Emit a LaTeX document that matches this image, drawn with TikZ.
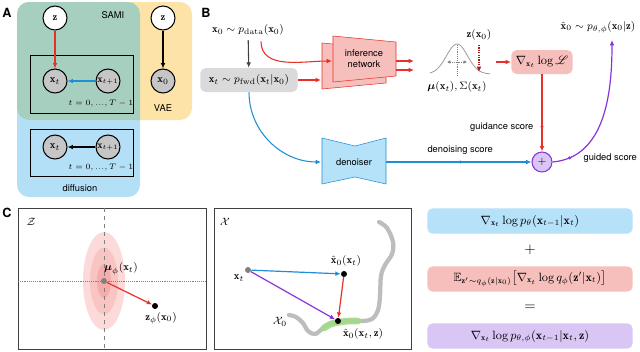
\documentclass[tikz,border=0pt]{standalone}
\usepackage{amsmath,amssymb}
\usepackage{mathrsfs}
\usepackage{fontspec}
\setsansfont{TeX Gyre Heros}
\usetikzlibrary{arrows.meta, positioning}
\definecolor{diffblue}{HTML}{B3E0F7}
\definecolor{vaeorange}{HTML}{FDE3A7}
\definecolor{samigreen}{HTML}{A7CFC0}
\definecolor{arrred}{HTML}{E8302A}
\definecolor{darkred}{HTML}{B01818}
\definecolor{arrblue}{HTML}{1E8FD5}
\definecolor{arrpurple}{HTML}{8A35D8}
\definecolor{boxred}{HTML}{F6BFBC}
\definecolor{boxblue}{HTML}{B5E1F9}
\definecolor{boxpurple}{HTML}{D9C6F5}
\definecolor{boxgray}{HTML}{DADADA}
\definecolor{curvegray}{HTML}{BDBDBD}
\definecolor{hlgreen}{HTML}{A3D98A}

\begin{document}
\begin{tikzpicture}[
  x=0.75pt, y=-0.75pt,
  font=\fontsize{8}{9.6}\selectfont,
  >={Latex[length=4pt,width=3.5pt]},
  panel/.style={font=\sffamily\bfseries\fontsize{9.5}{11}\selectfont},
  lbl/.style={font=\sffamily\fontsize{7}{8.4}\selectfont, text=black},
  latent/.style={circle, draw, thick, fill=white, minimum size=18pt, inner sep=0pt},
  obs/.style={latent, fill=gray!45},
  plate/.style={draw, semithick},
  platelbl/.style={font=\fontsize{6.3}{7}\selectfont},
  flow/.style={->, line width=0.9pt},
  dot/.style={circle, fill, inner sep=0pt, minimum size=4.5pt},
  smalldot/.style={circle, fill, inner sep=0pt, minimum size=2.5pt},
  eqbox/.style={rounded corners=4pt, minimum width=154pt, minimum height=19pt,
                inner sep=1pt, font=\fontsize{9}{10}\selectfont}
]
\useasboundingbox (0,0) rectangle (640,351);

% A: graphical models
\node[panel] (labA) at (7,13) {A};
\fill[diffblue, rounded corners=9pt] (17,2) rectangle (140,197);
\fill[vaeorange, rounded corners=9pt] (17,2) rectangle (192,120);
\begin{scope}
  \clip[rounded corners=9pt] (17,2) rectangle (140,197);
  \fill[samigreen, rounded corners=9pt] (17,2) rectangle (192,120);
\end{scope}
\node[lbl] (sami) at (113,15) {SAMI};
\node[lbl] (vae) at (163,108) {VAE};
\node[lbl] (diff) at (80,188) {diffusion};

\draw[plate] (30,55) rectangle (133,113);
\node[latent] (zS) at (55,18) {$\mathbf{z}$};
\node[obs] (xtS) at (55,81) {$\mathbf{x}_t$};
\node[obs, font=\fontsize{7.5}{8}\selectfont] (xtnS) at (108,81) {$\mathbf{x}_{t+1}$};
\node[platelbl] (tS) at (101,104) {$t=0,...,T-1$};
\draw[flow, arrred] (zS) -- (xtS);
\draw[flow, arrblue] (xtnS) -- (xtS);

\node[latent] (zV) at (163,18) {$\mathbf{z}$};
\node[obs] (x0V) at (163,81) {$\mathbf{x}_0$};
\draw[flow] (zV) -- (x0V);

\draw[plate] (30,129) rectangle (133,176);
\node[obs] (xtD) at (55,147) {$\mathbf{x}_t$};
\node[obs, font=\fontsize{7.5}{8}\selectfont] (xtnD) at (108,147) {$\mathbf{x}_{t+1}$};
\node[platelbl] (tD) at (101,168) {$t=0,...,T-1$};
\draw[flow] (xtnD) -- (xtD);

% B: training / sampling
\node[panel] (labB) at (206,13) {B};
\node (x0data) at (248,30) {$\mathbf{x}_0\sim p_{\mathrm{data}}(\mathbf{x}_0)$};
\node[fill=boxgray, rounded corners=4pt, minimum width=73pt, minimum height=18pt,
      inner sep=1pt] (xtfwd) at (249,80) {$\mathbf{x}_t\sim p_{\mathrm{fwd}}(\mathbf{x}_t|\mathbf{x}_0)$};
\draw[->, thick, darkgray] (x0data) -- (xtfwd);

\draw[arrred, fill=boxred] (322,43) -- (386,49) -- (386,83) -- (322,89) -- cycle;
\draw[arrred, fill=boxred] (333,36) -- (396,42) -- (396,76) -- (333,82) -- cycle;
\node[lbl, align=center] (infnet) at (364,59) {inference\\network};
\coordinate (infin1) at (332,61);
\coordinate (infin2) at (321,80);
\coordinate (infout1) at (396,61);
\coordinate (infend1) at (414,61);
\coordinate (infout2) at (396,70);
\coordinate (infend2) at (414,70);
\draw[->, thick, arrred] ([xshift=9.75pt, yshift=-1pt]x0data.south) to[out=-90, in=180] (infin1);
\draw[->, thick, arrred] (xtfwd.east) -- (infin2);
\draw[->, thick, arrred] (infout1) -- (infend1);
\draw[->, thick, arrred] (infout2) -- (infend2);

\draw[gray!80, semithick, domain=430:490, samples=50] plot (\x, {74-30*exp(-((\x-457)/10.5)^2/2)});
\draw[densely dotted, gray] (457,45) -- (457,75);
\draw[<->, densely dotted, gray, >={Latex[length=2.5pt,width=2.5pt]}] (447,62) -- (467,62);
\node (zx0) at (479,35) {$\mathbf{z}(\mathbf{x}_0)$};
\coordinate (zhit) at (479,72);
\draw[->, densely dotted, thick, darkred] (zx0) -- (zhit);
\node (musig) at (457,87) {$\boldsymbol{\mu}(\mathbf{x}_t),\Sigma(\mathbf{x}_t)$};

\node[fill=boxred, rounded corners=4pt, minimum width=46pt, minimum height=18pt,
      inner sep=1pt, font=\fontsize{9}{10}\selectfont] (gradL) at (542,62) {$\nabla_{\mathbf{x}_t}\log\mathscr{L}$};
\coordinate (gaussout) at (496,62);
\draw[->, thick, arrred] (gaussout) -- (gradL);

\node[circle, draw=arrpurple, thick, fill=boxpurple, minimum size=15pt, inner sep=0pt] (plus) at (542,162) {$+$};
\draw[flow, arrred] (gradL) -- node[pos=0.68, smalldot, label={[lbl, label distance=1pt]left:guidance score}] {} (plus);

\draw[arrblue, fill=boxblue] (322,138) -- (355,146) -- (386,138) -- (386,184) -- (355,177) -- (322,184) -- cycle;
\node[lbl] (denoiser) at (354,162) {denoiser};
\coordinate (denin) at (321,162);
\coordinate (denout) at (386,162);
\draw[->, thick, arrblue] (xtfwd.south) to[out=-90, in=180] (denin);
\draw[->, thick, arrblue] (denout) -- node[pos=0.51, smalldot, label={[lbl, label distance=0pt]above:denoising score}] {} (plus);

\node (x0hat) at (598,27) {$\hat{\mathbf{x}}_0\sim p_{\theta,\phi}(\mathbf{x}_0|\mathbf{z})$};
\coordinate (guidend) at (612,40);
\draw[flow, arrpurple] (plus.east) to[out=5, in=-90] node[pos=0.12, smalldot, label={[lbl, label distance=5pt]right:guided score}] {} (guidend);

% C: geometry
\node[panel] (labC) at (7,213) {C};
\draw[darkgray, semithick] (18,208) rectangle (206,349);
\node (Zsp) at (31,222) {$\mathcal{Z}$};
\fill[arrred!18] (104,281) ellipse [x radius=15.75pt, y radius=36.75pt];
\fill[arrred!28] (104,281) ellipse [x radius=10.5pt, y radius=25pt];
\fill[arrred!40] (104,281) ellipse [x radius=5.25pt, y radius=12.75pt];
\draw[dashed, gray] (104,208) -- (104,349);
\draw[densely dotted, gray] (18,281) -- (206,281);
\node[dot, gray] (muphi) at (104,281) {};
\node (mulab) at (121,269) {$\boldsymbol{\mu}_\phi(\mathbf{x}_t)$};
\node[dot] (zphi) at (155,306) {};
\node (zlab) at (161,318) {$\mathbf{z}_\phi(\mathbf{x}_0)$};
\draw[flow, arrred] (muphi) -- (zphi);

\draw[darkgray, semithick] (214,208) rectangle (411,349);
\node (Xsp) at (225,222) {$\mathcal{X}$};
\draw[curvegray, line width=3.2pt, line cap=round] plot[smooth, tension=0.6] coordinates {
  (379,222) (387,228) (393,242) (392,254) (385,265) (381,276) (380,296) (378,310)
  (372,319) (362,321) (350,321) (338,322) (329,324) (322,329) (315,334) (308,331)
  (303,323) (296,317) (289,315)};
\draw[hlgreen, line width=5pt, line cap=round, opacity=0.9] plot[smooth] coordinates {
  (324,328) (331,324) (340,322) (350,321) (358,321)};
\node (X0lab) at (280,322) {$\mathcal{X}_0$};
\node[dot, gray] (xtX) at (248,270) {};
\node (xtlab) at (239,278) {$\mathbf{x}_t$};
\node[dot] (xh0) at (344,274) {};
\node (xh0lab) at (346,261) {$\hat{\mathbf{x}}_0(\mathbf{x}_t)$};
\node[dot] (xh0z) at (338,321) {};
\node (xh0zlab) at (363,334) {$\hat{\mathbf{x}}_0(\mathbf{x}_t,\mathbf{z})$};
\draw[flow, arrblue] (xtX) -- (xh0);
\draw[flow, arrred] (xh0) -- (xh0z);
\draw[flow, arrpurple] (xtX) -- (xh0z);

\node[eqbox, fill=boxblue] (eq1) at (530,221) {$\nabla_{\mathbf{x}_t}\log p_\theta(\mathbf{x}_{t-1}|\mathbf{x}_t)$};
\node[font=\fontsize{11}{12}\selectfont] (eqplus) at (530,250) {$+$};
\node[eqbox, fill=boxred] (eq2) at (530,279) {$\mathbb{E}_{\mathbf{z}'\sim q_\phi(\mathbf{z}|\mathbf{x}_0)}\big[\nabla_{\mathbf{x}_t}\log q_\phi(\mathbf{z}'|\mathbf{x}_t)\big]$};
\node[font=\fontsize{11}{12}\selectfont] (eqeq) at (530,308) {$=$};
\node[eqbox, fill=boxpurple] (eq3) at (530,336) {$\nabla_{\mathbf{x}_t}\log p_{\theta,\phi}(\mathbf{x}_{t-1}|\mathbf{x}_t,\mathbf{z})$};
\end{tikzpicture}
\end{document}
